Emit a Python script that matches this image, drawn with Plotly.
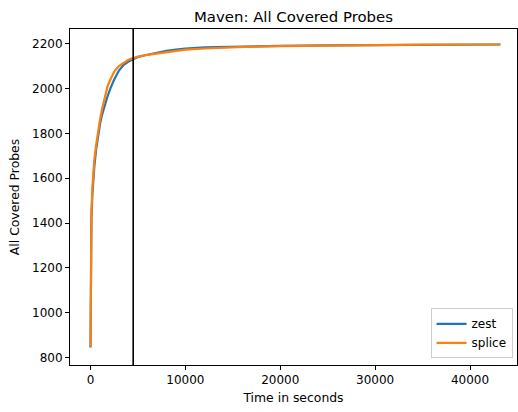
import plotly.graph_objects as go

times = [0, 20, 50, 100, 200, 300, 400, 600, 800, 1000, 1200, 1500, 1800, 2100, 2500, 3000,
         3500, 4000, 4500, 5000, 6000, 7000, 8000, 9000, 10000, 12000, 14000, 17000, 20000,
         25000, 30000, 35000, 40000, 43200]
zest = [845, 1150, 1300, 1420, 1530, 1600, 1650, 1730, 1790, 1840, 1880, 1925, 1965, 2000,
        2040, 2080, 2105, 2120, 2130, 2140, 2150, 2160, 2168, 2173, 2178, 2183, 2185, 2188,
        2190, 2192, 2194, 2195, 2196, 2196]
splice = [848, 1180, 1330, 1450, 1560, 1630, 1680, 1750, 1810, 1860, 1905, 1965, 2010, 2040,
          2075, 2100, 2115, 2128, 2135, 2142, 2150, 2155, 2162, 2168, 2173, 2178, 2182, 2186,
          2189, 2192, 2194, 2195, 2196, 2196]
vline_x = 4500

fig = go.Figure()
fig.add_trace(go.Scatter(x=times, y=zest, mode="lines", name="zest",
                         line=dict(color="#1f77b4", width=2.2)))
fig.add_trace(go.Scatter(x=times, y=splice, mode="lines", name="splice",
                         line=dict(color="#ff7f0e", width=2.2)))
fig.add_shape(type="line", x0=vline_x, x1=vline_x, y0=0, y1=1, xref="x", yref="paper",
              line=dict(color="black", width=1.6))

axis_common = dict(showline=True, linecolor="black", linewidth=1, mirror=True,
                   ticks="outside", ticklen=4, tickcolor="black", showgrid=False,
                   zeroline=False, tickfont=dict(family="DejaVu Sans", size=12, color="black"),
                   title_font=dict(family="DejaVu Sans", size=12.4, color="black"))

fig.update_layout(
    width=518, height=412,
    margin=dict(l=70, r=1, t=29, b=47),
    paper_bgcolor="white", plot_bgcolor="white",
    title=dict(text="Maven: All Covered Probes", x=(70 + 517) / 2 / 518, xanchor="center",
               y=1 - 17 / 412, yanchor="middle",
               font=dict(family="DejaVu Sans", size=14.9, color="black")),
    xaxis=dict(range=[-2160, 44950], tickvals=[0, 10000, 20000, 30000, 40000],
               ticktext=["0", "10000", "20000", "30000", "40000"],
               title=dict(text="Time in seconds", standoff=6), **axis_common),
    yaxis=dict(range=[767, 2265], tickvals=[800, 1000, 1200, 1400, 1600, 1800, 2000, 2200],
               title=dict(text="All Covered Probes", standoff=9), **axis_common),
    legend=dict(x=0.99, y=0.02, xanchor="right", yanchor="bottom",
                bgcolor="rgba(255,255,255,0.8)", bordercolor="#cccccc", borderwidth=1,
                font=dict(family="DejaVu Sans", size=12, color="black")),
    showlegend=True,
)

fig.write_html("out.html")
